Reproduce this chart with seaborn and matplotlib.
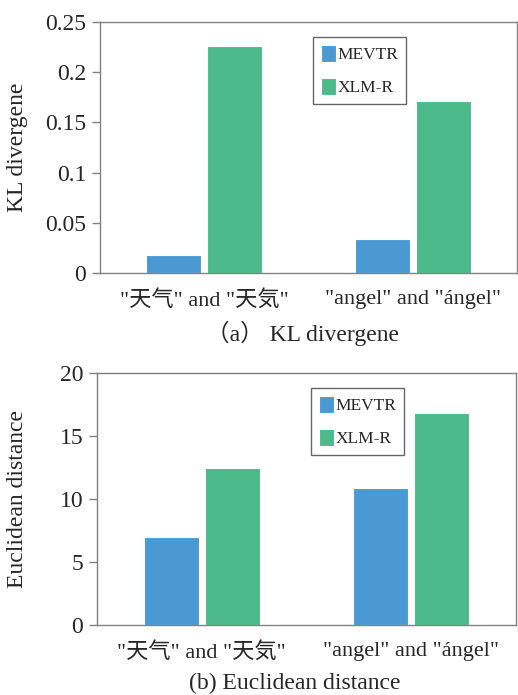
import pandas as pd
import matplotlib
matplotlib.use('Agg')
import matplotlib.pyplot as plt
import seaborn as sns

# data
pairs = ['"天气" and "天気"', '"angel" and "ángel"']
models = ['MEVTR', 'XLM-R']
kl_mevtr = [0.018, 0.034]
kl_xlmr = [0.226, 0.171]
euc_mevtr = [7.0, 10.85]
euc_xlmr = [12.45, 16.8]

colors = {'MEVTR': '#4a99d3', 'XLM-R': '#4cba8a'}

sns.set_style('white')
plt.rcParams['font.family'] = ['Liberation Serif', 'Noto Sans CJK SC']


def make_df(a, b):
    rows = []
    for i, p in enumerate(pairs):
        rows.append({'pair': p, 'model': 'MEVTR', 'value': a[i]})
        rows.append({'pair': p, 'model': 'XLM-R', 'value': b[i]})
    return pd.DataFrame(rows)


fig = plt.figure(figsize=(5.18, 6.95), dpi=100)
W, H = 518, 695
ax1 = fig.add_axes([100 / W, (H - 273) / H, 417 / W, 251 / H])
ax2 = fig.add_axes([97 / W, (H - 625) / H, 419 / W, 252 / H])


def draw(ax, df, ymax, yticks, ticklabels, ylabel, caption, cap_x, cap_y):
    sns.barplot(data=df, x='pair', y='value', hue='model', palette=colors,
                saturation=1, width=0.585, gap=0.1, edgecolor='white',
                linewidth=0.8, ax=ax)
    ax.set_xlim(-0.5, 1.5)
    ax.set_ylim(0, ymax)
    ax.set_yticks(yticks)
    ax.set_yticklabels(ticklabels, fontsize=17)
    ax.set_xticks([0, 1])
    ax.set_xticklabels(pairs, fontsize=16)
    ax.tick_params(axis='y', length=6, width=1, color='#808080', pad=4,
                   direction='out', left=True)
    ax.tick_params(axis='x', length=0, pad=12)
    ax.set_xlabel('')
    ax.set_ylabel(ylabel, fontsize=17)
    for s in ax.spines.values():
        s.set_visible(True)
        s.set_color('#808080')
        s.set_linewidth(1.0)
    leg = ax.legend(loc='upper left', bbox_to_anchor=(0.511, 0.94),
                    borderaxespad=0, fontsize=12.5, frameon=True,
                    fancybox=False, handlelength=0.85, handleheight=1.1,
                    handletextpad=0.1, labelspacing=0.85, borderpad=0.45)
    leg.get_frame().set_edgecolor('#404040')
    leg.get_frame().set_linewidth(1.0)
    fig.text(cap_x / W, 1 - cap_y / H, caption, ha='center', va='center',
             fontsize=17)


draw(ax1, make_df(kl_mevtr, kl_xlmr), 0.25,
     [0, 0.05, 0.1, 0.15, 0.2, 0.25],
     ['0', '0.05', '0.1', '0.15', '0.2', '0.25'],
     'KL divergene', '（a） KL divergene', 302, 333)
ax1.yaxis.set_label_coords(-0.173, 0.5)

draw(ax2, make_df(euc_mevtr, euc_xlmr), 20,
     [0, 5, 10, 15, 20], ['0', '5', '10', '15', '20'],
     'Euclidean distance', '(b) Euclidean distance', 295, 683)
ax2.yaxis.set_label_coords(-0.165, 0.5)

fig.savefig('out.png', dpi=100)
